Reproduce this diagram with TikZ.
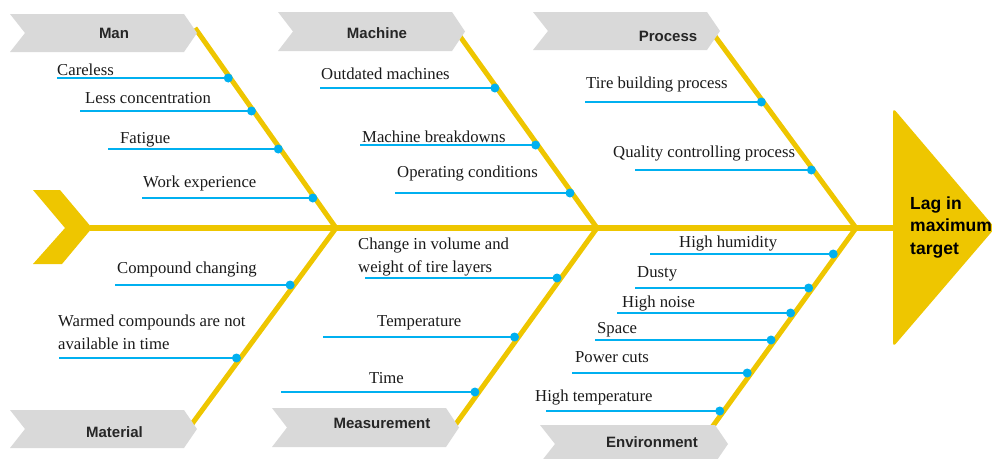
\documentclass[tikz,border=0pt]{standalone}
\usepackage{fontspec}
\setmainfont{Liberation Serif}
\newfontfamily\catfont{Liberation Sans}
\usetikzlibrary{calc}

\definecolor{boneyellow}{RGB}{238,198,0}
\definecolor{boxgray}{RGB}{217,217,217}
\definecolor{causeblue}{RGB}{0,176,240}
\definecolor{labelgray}{RGB}{38,38,38}
\definecolor{causeink}{RGB}{26,26,26}

% grey chevron tag: left edge, right corner, top, bottom
\newcommand\catbox[4]{%
  \fill[boxgray] (#1,#3) -- (#2,#3) -- ({#2+13},{(#3+#4)/2}) -- (#2,#4)
    -- (#1,#4) -- ({#1+15},{(#3+#4)/2}) -- cycle;}

% one cause branch: id, bone from, bone to, position along the bone,
% sideways shift of the dot, x where the branch begins
\newcommand\branch[6]{%
  \coordinate (#1-dot) at ($(#2)!{#4}!(#3)+(#5,0)$);
  \coordinate (#1-start) at (#1-dot -| #6,0);
  \draw[causeline] (#1-start) -- (#1-dot);
  \fill[causeblue] (#1-dot) circle[radius=4.5pt];}

\begin{document}
\begin{tikzpicture}[x=1pt,y=-1pt,
  bone/.style={draw=boneyellow, line width=5pt, line join=miter},
  spine/.style={draw=boneyellow, line width=6pt},
  causeline/.style={draw=causeblue, line width=1.6pt},
  causetxt/.style={anchor=base west, inner sep=0pt, text=causeink,
    font=\fontsize{16.7}{23}\selectfont, align=left},
  cattxt/.style={anchor=base, inner sep=0pt, text=labelgray,
    font=\catfont\bfseries\fontsize{15}{18}\selectfont},
  headtxt/.style={anchor=base west, inner sep=0pt, text=black, align=left,
    font=\catfont\bfseries\fontsize{17.5}{22.5}\selectfont}]

\useasboundingbox (0,0) rectangle (992,458);
\clip (0,0) rectangle (992,458);

% skeleton points
\coordinate (tail) at (90,228);
\coordinate (headL) at (893,228);
\coordinate (J1) at (336,228);
\coordinate (J2) at (597,228);
\coordinate (J3) at (856,228);
\coordinate (manT) at (195,28);
\coordinate (macT) at (454,28);
\coordinate (proT) at (709,28);
\coordinate (matB) at (189,428);
\coordinate (meaB) at (453,428);
\coordinate (envB) at (710,430);

% tail and head
\fill[boneyellow] (33,190) -- (60,190) -- (92,228) -- (62,264) -- (33,264)
  -- (65,228) -- cycle;
\fill[boneyellow, rounded corners=4pt] (893,108) -- (995,228) -- (893,347) -- cycle;

% spine and bones
\draw[spine] (tail) -- (headL);
\draw[bone] (manT) -- (J1) -- (matB);
\draw[bone] (macT) -- (J2) -- (meaB);
\draw[bone] (proT) -- (J3) -- (envB);

% category tags
\catbox{10}{184}{14}{52}
\catbox{278}{452}{12}{51}
\catbox{533}{707}{12}{50}
\catbox{10}{184}{410}{448}
\catbox{272}{446}{408}{447}
\catbox{540}{715}{425}{463}

\node[cattxt] (man) at (114,38) {Man};
\node[cattxt] (machine) at (377,38) {Machine};
\node[cattxt] (process) at (668,41) {Process};
\node[cattxt] (material) at (114.5,437) {Material};
\node[cattxt] (measurement) at (382,428) {Measurement};
\node[cattxt] (environment) at (652,447) {Environment};

% Man
\branch{careless}{manT}{J1}{(78-28)/200}{-2}{57}
\branch{lessconc}{manT}{J1}{(111-28)/200}{-2}{80}
\branch{fatigue}{manT}{J1}{(149-28)/200}{-2}{108}
\branch{workexp}{manT}{J1}{(198-28)/200}{-2}{142}
\node[causetxt] (careless-txt) at (57,75) {Careless};
\node[causetxt] (lessconc-txt) at (85,103) {Less concentration};
\node[causetxt] (fatigue-txt) at (120,143) {Fatigue};
\node[causetxt] (workexp-txt) at (143,187) {Work experience};

% Machine
\branch{outdated}{macT}{J2}{(88-28)/200}{-2}{320}
\branch{breakdown}{macT}{J2}{(145-28)/200}{-2}{360}
\branch{operating}{macT}{J2}{(193-28)/200}{-2}{395}
\node[causetxt] (outdated-txt) at (321,79) {Outdated machines};
\node[causetxt] (breakdown-txt) at (362,142) {Machine breakdowns};
\node[causetxt] (operating-txt) at (397,177) {Operating conditions};

% Process
\branch{tire}{proT}{J3}{(102-28)/200}{-2}{585}
\branch{quality}{proT}{J3}{(170-28)/200}{-2}{635}
\node[causetxt] (tire-txt) at (586,88) {Tire building process};
\node[causetxt] (quality-txt) at (613,157) {Quality controlling process};

% Material
\branch{compound}{J1}{matB}{(285-228)/200}{-4}{115}
\branch{warmed}{J1}{matB}{(358-228)/200}{-4}{59}
\node[causetxt] (compound-txt) at (117,273) {Compound changing};
\node[causetxt] (warmed-txt) at (58,349) {Warmed compounds are not\\available in time};

% Measurement
\branch{volume}{J2}{meaB}{(278-228)/200}{-4}{365}
\branch{temp}{J2}{meaB}{(337-228)/200}{-4}{323}
\branch{time}{J2}{meaB}{(392-228)/200}{-4}{281}
\node[causetxt] (volume-txt) at (358,272) {Change in volume and\\weight of tire layers};
\node[causetxt] (temp-txt) at (377,326) {Temperature};
\node[causetxt] (time-txt) at (369,383) {Time};

% Environment
\branch{humid}{J3}{envB}{(254-228)/202}{-4}{650}
\branch{dusty}{J3}{envB}{(288-228)/202}{-4}{635}
\branch{noise}{J3}{envB}{(313-228)/202}{-4}{617}
\branch{space}{J3}{envB}{(340-228)/202}{-4}{595}
\branch{power}{J3}{envB}{(373-228)/202}{-4}{572}
\branch{hightemp}{J3}{envB}{(411-228)/202}{-4}{546}
\node[causetxt] (humid-txt) at (679,247) {High humidity};
\node[causetxt] (dusty-txt) at (637,277) {Dusty};
\node[causetxt] (noise-txt) at (622,307) {High noise};
\node[causetxt] (space-txt) at (597,333) {Space};
\node[causetxt] (power-txt) at (575,362) {Power cuts};
\node[causetxt] (hightemp-txt) at (535,401) {High temperature};

% effect
\node[headtxt] (effect) at (910,254) {Lag in\\maximum\\target};

\end{tikzpicture}
\end{document}
